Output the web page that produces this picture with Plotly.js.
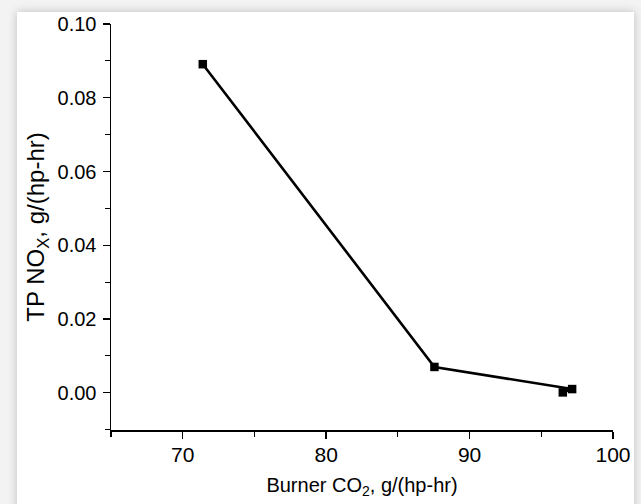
<!DOCTYPE html>
<html>
<head>
<meta charset="utf-8">
<script src="https://cdn.plot.ly/plotly-3.0.1.min.js"></script>
<style>
  html, body { margin: 0; padding: 0; width: 641px; height: 504px; overflow: hidden; background: #f3f3f3; }
  #card { position: absolute; left: 17px; top: 12px; width: 617px; height: 560px; background: #ffffff; box-shadow: 0 0 9px rgba(0,0,0,0.22); }
  #chart { position: absolute; left: 0; top: 0; width: 641px; height: 504px; }
</style>
</head>
<body>
<div id="card"></div>
<div id="chart"></div>
<script>
// Data
const burnerCO2 = [71.4, 87.55, 97.15, 96.5];
const tpNOx = [0.0891, 0.0070, 0.0010, 0.0001];

const xTickVals = [70, 80, 90, 100];
const xTickText = ["70", "80", "90", "100"];
const yTickVals = [0.00, 0.02, 0.04, 0.06, 0.08, 0.10];
const yTickText = ["0.00", "0.02", "0.04", "0.06", "0.08", "0.10"];

const font = "Liberation Sans, Arial, sans-serif";

const trace = {
  x: burnerCO2,
  y: tpNOx,
  type: "scatter",
  mode: "lines+markers",
  line: { color: "#000000", width: 2.6 },
  marker: { symbol: "square", size: 8.5, color: "#000000" },
  cliponaxis: false,
  hoverinfo: "skip"
};

const layout = {
  width: 641,
  height: 504,
  margin: { l: 111, r: 28, t: 24, b: 74 },
  paper_bgcolor: "rgba(0,0,0,0)",
  plot_bgcolor: "rgba(0,0,0,0)",
  showlegend: false,
  font: { family: font, color: "#000000" },
  xaxis: {
    range: [65, 100],
    tickmode: "array",
    tickvals: xTickVals,
    ticktext: xTickText,
    ticks: "outside",
    ticklen: 7,
    tickwidth: 1.3,
    tickcolor: "#000000",
    showline: true,
    linecolor: "#000000",
    linewidth: 1.5,
    showgrid: false,
    zeroline: false,
    ticklabelstandoff: -2,
    tickfont: { family: font, size: 21, color: "#000000" },
    minor: { tickvals: [65, 75, 85, 95], ticks: "outside", ticklen: 5, tickwidth: 1.2, tickcolor: "#000000", showgrid: false },
    title: { text: "Burner CO<sub>2</sub>, g/(hp-hr)", font: { family: font, size: 20, color: "#000000" }, standoff: 13 }
  },
  yaxis: {
    range: [-0.0101, 0.10],
    tickmode: "array",
    tickvals: yTickVals,
    ticktext: yTickText,
    ticks: "outside",
    ticklen: 7,
    tickwidth: 1.3,
    tickcolor: "#000000",
    showline: true,
    linecolor: "#000000",
    linewidth: 1.5,
    showgrid: false,
    zeroline: false,
    ticklabelstandoff: 2,
    tickfont: { family: font, size: 20, color: "#000000" },
    minor: { tickvals: [-0.01, 0.01, 0.03, 0.05, 0.07, 0.09], ticks: "outside", ticklen: 5, tickwidth: 1.2, tickcolor: "#000000", showgrid: false },
    title: { text: "TP NO<sub>X</sub>, g/(hp-hr)", font: { family: font, size: 24, color: "#000000" }, standoff: 6 }
  }
};

Plotly.newPlot("chart", [trace], layout, { staticPlot: true, displayModeBar: false });
</script>
</body>
</html>
